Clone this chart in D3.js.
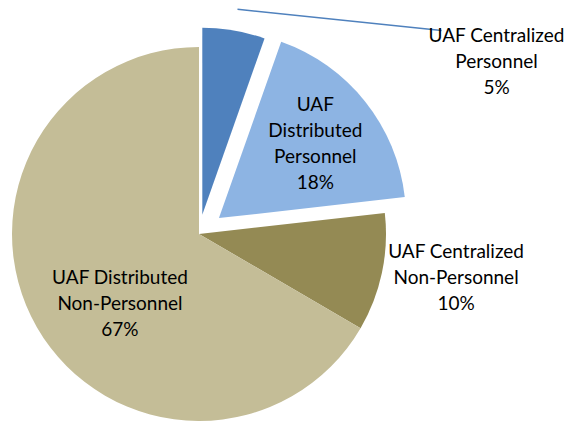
<!DOCTYPE html>
<html lang="en">
<head>
<meta charset="UTF-8">
<title>UAF Pie</title>
<script src="https://cdn.jsdelivr.net/npm/d3@7"></script>
<style>
    body { margin: 0; background: #fff; }
    text { font-family: Lato, "Liberation Sans", sans-serif; fill: #000; }
</style>
</head>
<body>
<svg id="chart" width="571" height="425"></svg>
<script>
    // data (shares; labels show them rounded)
    var categories = ["UAF Centralized Personnel", "UAF Distributed Personnel",
        "UAF Centralized Non-Personnel", "UAF Distributed Non-Personnel"];
    var values = [5.4, 17.8, 10.2, 66.6];
    var labelLines = [
        ["UAF Centralized", "Personnel"],
        ["UAF", "Distributed", "Personnel"],
        ["UAF Centralized", "Non-Personnel"],
        ["UAF Distributed", "Non-Personnel"]
    ];

    // styling / layout
    var colors = ["#4F81BD", "#8DB4E3", "#948A54", "#C4BD97"];
    var explode = [19.5, 25.5, 0, 0];
    // label anchor: [distance from slice centre, angle in degrees clockwise from 12 o'clock]
    var labelPolar = [[332, 62.4], [122, 52.2], [260.7, 99.6], [105.2, 228.7]];
    var cx = 199, cy = 234, radius = 187, lineH = 26, fontSize = 19;

    var total = d3.sum(values),
        pct = d3.format(".0%");

    var svg = d3.select("#chart"),
        g = svg.append("g").attr("transform", "translate(" + cx + "," + cy + ")");

    var pie = d3.pie().sort(null).value(function (d) { return d; });
    var arcs = pie(values);
    var arc = d3.arc().innerRadius(0).outerRadius(radius);

    function polar(r, a) {
        return [r * Math.sin(a), -r * Math.cos(a)];
    }
    function shift(d, i) {
        var mid = (d.startAngle + d.endAngle) / 2;
        return polar(explode[i], mid);
    }
    function labelPos(d, i) {
        var s = shift(d, i),
            p = polar(labelPolar[i][0], labelPolar[i][1] * Math.PI / 180);
        return [s[0] + p[0], s[1] + p[1]];
    }

    var slices = g.selectAll(".slice")
        .data(arcs)
        .enter().append("g")
        .attr("class", "slice")
        .attr("transform", function (d, i) { return "translate(" + shift(d, i) + ")"; });

    slices.append("path")
        .attr("d", arc)
        .attr("fill", function (d, i) { return colors[i]; });

    // labels
    var labels = g.selectAll(".lbl")
        .data(arcs)
        .enter().append("text")
        .attr("class", "lbl")
        .attr("text-anchor", "middle")
        .style("font-size", fontSize + "px")
        .attr("transform", function (d, i) { return "translate(" + labelPos(d, i) + ")"; });

    labels.each(function (d, i) {
        var lines = labelLines[i].concat([pct(d.data / total)]),
            t = d3.select(this),
            y0 = -(lines.length - 1) * lineH / 2;
        lines.forEach(function (l, k) {
            t.append("tspan")
                .attr("x", 0)
                .attr("y", y0 + k * lineH)
                .attr("dy", "0.35em")
                .text(l);
        });
    });

    // leader line for the small slice
    var d0 = arcs[0],
        s0 = shift(d0, 0),
        mid0 = (d0.startAngle + d0.endAngle) / 2,
        p0 = polar(radius * 1.115, mid0),
        lp = labelPos(d0, 0),
        firstLine = labels.filter(function (d, i) { return i === 0; }).select("tspan").node(),
        w = firstLine.getComputedTextLength(),
        base = lp[1] - labelLines[0].length * lineH / 2 + 0.35 * fontSize;

    g.insert("line", ".lbl")
        .attr("x1", s0[0] + p0[0])
        .attr("y1", s0[1] + p0[1])
        .attr("x2", lp[0] - w / 2 + 13)
        .attr("y2", base - 11)
        .attr("stroke", "#4F81BD")
        .attr("stroke-width", 1.5);
</script>
</body>
</html>
